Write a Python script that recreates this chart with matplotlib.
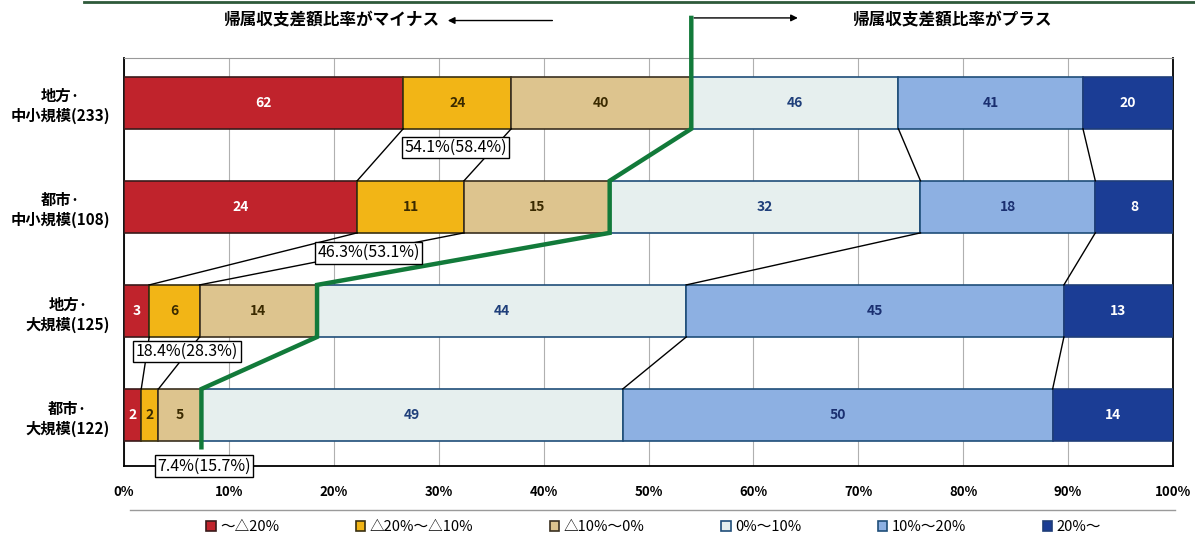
import numpy as np
import matplotlib.pyplot as plt
from matplotlib.lines import Line2D

# fonts: Japanese first, DejaVu as fallback
plt.rcParams['font.family'] = ['Noto Sans CJK JP', 'DejaVu Sans']

# data
categories = ['地方·\n中小規模(233)', '都市·\n中小規模(108)',
              '地方·\n大規模(125)', '都市·\n大規模(122)']
legend_labels = ['～△20%', '△20%～△10%', '△10%～0%', '0%～10%', '10%～20%', '20%～']
counts = [
    [62, 24, 40, 46, 41, 20],
    [24, 11, 15, 32, 18, 8],
    [3, 6, 14, 44, 45, 13],
    [2, 2, 5, 49, 50, 14],
]
ratio_labels = ['54.1%(58.4%)', '46.3%(53.1%)', '18.4%(28.3%)', '7.4%(15.7%)']
x_ticks = [0, 10, 20, 30, 40, 50, 60, 70, 80, 90, 100]

colors = ['#C0232C', '#F2B516', '#DDC48E', '#E6EFEE', '#8DB0E2', '#1B3D95']
edge_colors = ['#3a1a1a', '#3a3010', '#3a3020', '#1F4E79', '#1F4E79', '#1F3E79']
text_colors = ['white', '#3a2a00', '#3a2a00', '#1F3F7A', '#1A2F70', 'white']

counts = np.array(counts, dtype=float)
pct = counts / counts.sum(axis=1, keepdims=True) * 100
cum = np.cumsum(pct, axis=1)
left = cum - pct
y = np.arange(len(categories))
h = 0.5

fig = plt.figure(figsize=(11.95, 5.4), dpi=100)
ax = fig.add_axes([0.1038, 0.137, 0.8778, 0.7556])

# stacked bars
handles = []
for j in range(pct.shape[1]):
    bars = ax.barh(y, pct[:, j], left=left[:, j], height=h, color=colors[j],
                   edgecolor=edge_colors[j], linewidth=1.2, zorder=3)
    handles.append(bars)
    for i in range(len(y)):
        ax.text(left[i, j] + pct[i, j] / 2, y[i], f'{int(counts[i, j])}',
                ha='center', va='center', fontsize=10, fontweight='bold',
                color=text_colors[j], zorder=5)

# thin connector lines between bars
for i in range(len(y) - 1):
    for b in [0, 1, 3, 4]:
        ax.plot([cum[i, b], cum[i + 1, b]], [y[i] + h / 2, y[i + 1] - h / 2],
                color='black', lw=1, zorder=4)

# green line: minus / plus boundary
gx, gy = [cum[0, 2]], [-0.815]
for i in range(len(y)):
    gx += [cum[i, 2], cum[i, 2]]
    gy += [y[i] - h / 2, y[i] + h / 2]
gx.append(cum[-1, 2])
gy.append(3.31)
ax.plot(gx, gy, color='#127A3A', lw=3.2, zorder=6, clip_on=False,
        solid_joinstyle='miter')

# ratio boxes
box_pos = [(31.6, 0.43), (23.3, 1.44), (6.0, 2.39), (7.6, 3.49)]
for (bx, by), lab in zip(box_pos, ratio_labels):
    ax.text(bx, by, lab, ha='center', va='center', fontsize=11.5, zorder=7,
            bbox=dict(boxstyle='square,pad=0.15', fc='white', ec='black', lw=1),
            clip_on=False)

# header texts and arrows
ax.text(30.1, -0.79, '帰属収支差額比率がマイナス', ha='right', va='center',
        fontsize=12, fontweight='bold')
ax.annotate('', xy=(30.6, -0.79), xytext=(41.1, -0.79),
            arrowprops=dict(arrowstyle='-|>', color='black', lw=1),
            annotation_clip=False)
ax.annotate('', xy=(64.5, -0.815), xytext=(cum[0, 2], -0.815),
            arrowprops=dict(arrowstyle='-|>', color='black', lw=1),
            annotation_clip=False)
ax.text(69.5, -0.79, '帰属収支差額比率がプラス', ha='left', va='center',
        fontsize=12, fontweight='bold')

# axes styling
ax.set_xlim(0, 100)
ax.set_ylim(3.49, -0.43)
ax.set_xticks(x_ticks)
ax.set_xticklabels([f'{t}%' for t in x_ticks], fontsize=9.5, fontweight='bold')
ax.set_yticks(y)
ax.set_yticklabels(categories, fontsize=11, fontweight='bold',
                   multialignment='center', linespacing=1.3)
ax.tick_params(length=0, pad=10)
ax.tick_params(axis='x', pad=14)
ax.grid(axis='x', color='#b0b0b0', lw=0.8, zorder=0)
for s in ['left', 'bottom', 'right']:
    ax.spines[s].set_color('black')
    ax.spines[s].set_linewidth(1.3)
ax.spines['top'].set_color('#999999')
ax.spines['top'].set_linewidth(0.8)

# top frame line and legend separator
fig.add_artist(Line2D([0.07, 1.0], [0.996, 0.996], color='#2E5A3A', lw=2))
fig.add_artist(Line2D([0.109, 0.983], [0.056, 0.056], color='#9a9a9a', lw=1))

fig.legend(handles, legend_labels, loc='center', bbox_to_anchor=(0.547, 0.024),
           ncol=6, frameon=False, fontsize=10.5, handlelength=0.65,
           handleheight=0.65, handletextpad=0.3, columnspacing=5.25)

fig.savefig('out.png', dpi=100)
